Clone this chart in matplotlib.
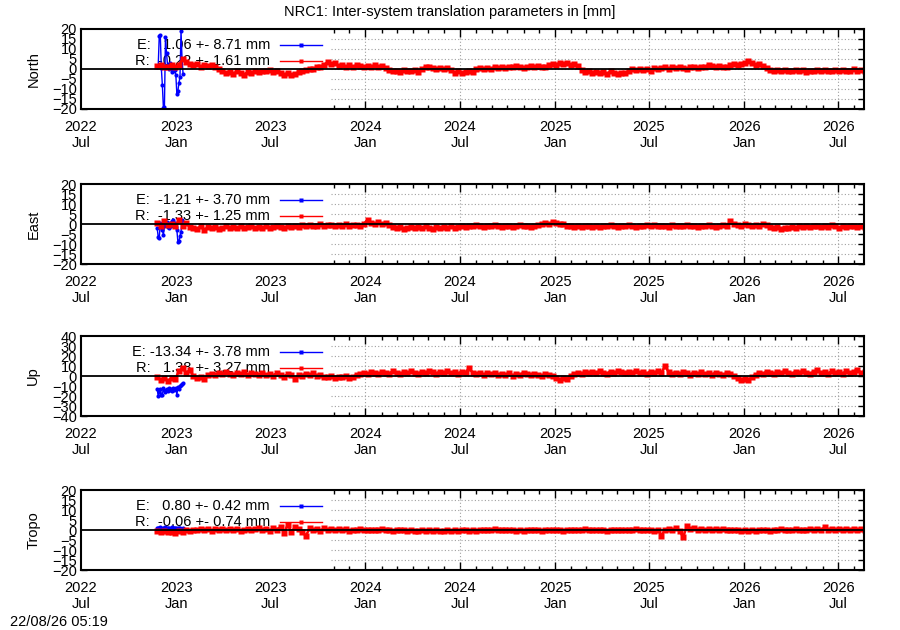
import pandas as pd
import matplotlib
matplotlib.use("Agg")
import matplotlib.pyplot as plt
import matplotlib.dates as mdates
from matplotlib.lines import Line2D
from matplotlib.patches import Rectangle

plt.rcParams["font.family"] = ["Liberation Sans", "DejaVu Sans"]
plt.rcParams["font.size"] = 10.5

# ---- data (mm), R: weekly from 2022-11-25, E: every 2 days from 2022-11-25 ----
north_e = [1.0, 1.5, 16.5, 17.0, 0.5, -8.0, -19.5, -19.0, 16.0, 8.0, 2.0, 0.0, 3.0,
           0.5, -1.5, -1.0, 1.0, -0.5, -3.0, -12.5, -11.0, -7.0, -4.0, 19.0, 5.0, -2.5]
north_r = [1.5, 2.0, 0.8, 1.2, 2.2, 1.0, 1.8, 5.0, 3.5, 2.5,
           1.8, 2.4, 1.2, 2.0, 1.5, 2.2, 1.0, 0.2, -1.2, -2.0,
           -1.5, -2.6, -1.0, -1.8, -2.8, -1.4, -2.0, -1.2, -1.6, -0.8,
           -1.2, -0.6, -1.4, -1.0, -2.2, -2.8, -2.0, -3.2, -2.4, -1.6,
           -1.0, -0.4, 0.2, -0.2, 0.8, 1.2, 2.0, 3.6, 2.4, 2.8,
           1.6, 2.2, 1.2, 1.8, 1.0, 2.0, 1.4, 0.8, 1.6, 1.2,
           1.8, 1.0, 1.4, 0.6, -0.4, -1.2, -0.8, -1.6, -0.6, -1.2,
           -1.0, -0.4, -1.4, 0.2, 0.8, 1.2, 0.4, 0.0, 0.6, -0.2,
           0.4, -0.6, -1.8, -1.2, -2.2, -1.4, -0.8, -1.6, 0.0, 0.4,
           -0.2, 0.6, 0.2, 0.8, 0.4, 1.0, 0.6, 1.2, 0.8, 1.4,
           1.0, 0.6, 1.2, 1.6, 1.0, 1.4, 0.8, 1.2, 1.8, 2.6,
           2.2, 3.0, 2.4, 2.8, 2.0, 2.6, 1.6, -0.4, -1.4, -1.0,
           -1.8, -1.4, -2.2, -1.6, -2.4, -1.2, -1.8, -2.6, -1.8, -2.2,
           -0.8, -0.2, -0.6, 0.2, -0.4, 0.0, -0.8, 0.4, -0.2, 0.6,
           0.8, 0.2, 1.0, 0.4, 1.2, 0.6, 0.2, 1.0, 0.8, 0.4,
           1.2, 0.8, 2.2, 1.4, 1.0, 1.6, 0.8, 1.2, 1.8, 2.4,
           2.0, 2.6, 3.0, 4.0, 2.8, 2.2, 2.6, 1.6, 0.6, -0.4,
           -0.8, -0.4, -1.0, -0.6, -1.2, -0.8, -0.4, -1.0, -0.6, -1.4,
           -0.8, -1.2, -0.4, -1.0, -0.6, -1.2, -0.8, -0.4, -1.0, -0.6,
           -1.2, -0.8, -0.2, -1.0, -0.6, -0.9]

east_e = [-2.0, -6.5, -7.0, 0.5, -1.5, -3.0, -5.5, -1.0, 0.0, 1.0, -1.5, -2.0, 0.5,
          -1.0, 1.5, 2.0, -0.5, 0.5, -1.5, -3.0, -9.0, -8.5, -6.0, -4.0, 2.0, 0.0]
east_r = [0.5, -1.0, 1.5, -0.5, 0.2, -1.2, 2.0, -0.8, 0.6, -1.5,
          -1.8, -2.4, -1.2, -3.0, -1.6, -2.2, -1.4, -2.6, -1.8, -1.2,
          -2.0, -1.4, -1.8, -1.2, -2.2, -1.6, -1.0, -1.8, -1.4, -2.0,
          -1.2, -1.8, -1.4, -1.0, -1.6, -2.0, -1.2, -1.6, -1.0, -1.4,
          -0.6, -1.0, -0.4, -1.2, -0.8, -0.2, -1.0, -0.6, -0.4, -0.8,
          -0.6, -1.0, -0.2, -0.8, -0.4, -0.6, -1.2, 0.2, 2.0, 0.6,
          0.0, 1.0, -0.2, 0.4, -0.6, -1.4, -2.0, -1.6, -2.4, -1.8,
          -1.4, -2.2, -1.6, -2.0, -1.2, -1.8, -2.4, -1.6, -2.0, -1.4,
          -1.8, -1.2, -2.2, -1.6, -1.0, -1.4, -0.8, -1.2, -0.6, -1.0,
          -1.4, -0.8, -1.2, -0.6, -1.0, -1.4, -0.8, -1.2, -1.6, -1.0,
          -0.6, -1.2, -0.8, -1.4, -1.0, -0.6, 0.0, 0.6, 0.2, 0.8,
          0.4, -0.2, 0.2, -0.8, -1.2, -1.6, -1.0, -1.4, -0.8, -1.2,
          -1.6, -1.0, -1.4, -0.8, -1.2, -0.6, -1.0, -1.4, -0.8, -1.2,
          -0.6, -1.0, -1.4, -0.8, -1.2, -0.6, -1.0, -0.4, -1.2, -0.8,
          -1.0, -1.4, -0.6, -1.2, -0.8, -1.0, -0.4, -1.2, -0.8, -1.4,
          -0.8, -1.2, -0.6, -1.0, -1.4, -0.8, -0.4, -1.0, 1.4, -0.2,
          -0.4, -0.8, -0.2, -0.6, -1.0, -0.4, -0.8, -0.2, -0.6, -1.4,
          -2.0, -1.6, -2.4, -1.8, -2.2, -1.6, -2.0, -1.2, -1.6, -1.0,
          -1.4, -0.8, -1.2, -1.6, -1.0, -1.4, -0.6, -1.2, -1.8, -1.0,
          -1.4, -0.8, -1.2, -1.6, -1.0, -1.4]

up_e = [-13, -20, -16, -13, -19, -19, -12, -14, -16, -13, -15, -12, -14,
        -13, -15, -12, -14, -13, -12, -19, -11, -13, -10, -9, -8, -7]
up_r = [-1.0, -4.0, -2.0, -5.0, -1.5, -3.0, 5.0, 8.0, 3.0, 6.0,
        0.0, -2.0, -1.0, -2.5, 1.0, 2.5, 1.5, 3.5, 2.0, 4.0,
        2.5, 1.5, 3.0, 2.0, 4.0, 1.0, 3.0, 2.5, 1.5, 3.5,
        1.0, 2.0, 0.5, 3.0, 1.5, -0.5, 2.0, 1.0, -3.0, 1.5,
        0.5, 2.5, 1.0, 3.0, 0.0, 1.5, -1.0, -0.5, 0.5, -1.5,
        -0.5, -1.0, 0.0, -2.0, -0.5, 1.0, 2.5, 3.5, 2.0, 4.0,
        3.0, 2.0, 4.5, 3.0, 2.5, 5.0, 3.5, 2.0, 4.0, 3.0,
        5.0, 3.5, 2.5, 4.5, 3.0, 5.5, 4.0, 2.5, 4.5, 3.5,
        5.0, 3.0, 4.0, 2.5, 4.5, 3.5, 8.0, 3.0, 2.0, 3.5,
        1.5, 3.0, 2.0, 3.5, 1.0, 2.5, 1.5, 3.0, 0.5, 2.0,
        1.5, 3.0, 2.0, 1.0, 2.5, 1.5, 0.5, 2.0, 1.0, 0.0,
        -2.0, -3.5, -1.5, -2.5, 0.5, 2.0, 3.5, 2.5, 4.0, 3.0,
        4.5, 3.0, 5.0, 3.5, 2.5, 4.5, 3.0, 5.0, 4.0, 3.0,
        4.5, 3.5, 5.5, 3.0, 4.0, 2.5, 4.5, 3.5, 5.0, 3.0,
        10.0, 4.0, 2.5, 3.5, 2.0, 4.0, 3.0, 1.5, 3.5, 2.5,
        4.0, 2.0, 3.0, 1.5, 3.5, 2.5, 1.0, 3.0, 2.0, 0.5,
        -1.5, -3.5, -2.5, -4.0, -1.0, 1.5, 3.0, 2.0, 4.5, 3.0,
        2.5, 4.0, 3.0, 5.0, 3.5, 2.0, 4.5, 3.0, 5.5, 3.5,
        2.5, 4.0, 6.0, 3.0, 4.5, 2.5, 5.0, 3.5, 4.0, 2.5,
        5.0, 3.0, 4.5, 6.5, 3.5, 4.0]

tropo_e = [1.0, 1.2, 0.8, 1.4, 1.0, 0.6, 1.2, 1.0, 1.4, 0.8, 1.2, 1.0, 0.6,
           1.0, 1.4, 1.2, 0.8, 1.0, 1.2, 0.6, 1.0, 0.8, 1.2, 0.4, 0.6, 0.8]
tropo_r = [-0.6, -1.0, -0.4, -1.2, -0.8, -1.4, -0.6, -1.0, 0.0, -0.4,
           0.2, -0.2, 0.4, 0.0, 0.3, -0.3, 0.5, 0.1, 0.4, -0.2,
           0.3, 0.0, 0.5, -0.4, 0.2, 0.6, -0.2, 0.4, 0.8, 0.0,
           0.6, -0.6, 1.2, 0.2, 1.6, -1.4, 2.6, -1.0, 1.4, 0.4,
           -0.8, -3.0, 1.0, 0.2, 0.6, -0.4, 0.8, 0.0, 0.4, -0.2,
           0.4, 0.0, 0.3, -0.3, 0.2, -0.1, 0.4, 0.0, 0.2, -0.2,
           0.2, 0.0, 0.3, -0.2, 0.1, -0.4, 0.2, -0.2, 0.0, -0.5,
           -0.2, -0.6, -0.3, 0.0, -0.5, -0.1, -0.4, 0.1, -0.3, -0.6,
           -0.2, -0.4, 0.0, -0.3, 0.1, -0.2, -0.5, 0.0, -0.3, 0.1,
           -0.2, 0.2, -0.1, 0.3, 0.0, -0.2, 0.2, -0.1, 0.1, -0.3,
           0.0, -0.4, -0.1, 0.2, -0.2, 0.0, -0.3, 0.1, -0.1, 0.2,
           -0.2, 0.0, -0.3, 0.1, -0.1, 0.2, -0.2, 0.0, 0.3, -0.1,
           0.1, -0.2, 0.2, 0.0, -0.3, 0.1, -0.1, 0.2, -0.2, 0.0,
           0.2, -0.1, 0.3, 0.0, -0.2, 0.2, 0.0, -0.4, 0.1, -2.8,
           0.2, 0.6, 0.0, 0.8, -0.4, -3.6, 1.8, 0.4, 0.8, 0.0,
           0.4, -0.2, 0.3, 0.0, 0.5, -0.1, 0.3, 0.0, 0.2, -0.2,
           0.1, -0.3, 0.2, -0.5, 0.0, -0.3, 0.2, -0.1, 0.0, -0.4,
           0.0, -0.2, 0.3, -0.1, 0.2, 0.0, 0.4, -0.2, 0.2, 0.0,
           0.3, -0.1, 0.5, 0.0, 1.4, 0.2, 0.6, -0.2, 0.4, 0.0,
           0.3, -0.2, 0.6, 0.1, 0.4, 0.0]

panels = [
    ("North", north_e, north_r, 20, 5, "E:   1.06 +- 8.71 mm", "R:  -0.22 +- 1.61 mm"),
    ("East", east_e, east_r, 20, 5, "E:  -1.21 +- 3.70 mm", "R:  -1.33 +- 1.25 mm"),
    ("Up", up_e, up_r, 40, 10, "E: -13.34 +- 3.78 mm", "R:   1.38 +- 3.27 mm"),
    ("Tropo", tropo_e, tropo_r, 20, 5, "E:   0.80 +- 0.42 mm", "R:  -0.06 +- 0.74 mm"),
]

fig = plt.figure(figsize=(9, 6.3), dpi=100)
tops = [29, 184, 336, 490]
left_px, right_px, h_px = 81, 864, 80
x0 = pd.Timestamp("2022-07-01")
x1 = pd.Timestamp("2026-08-20")

for (name, ev, rv, lim, step, elab, rlab), top in zip(panels, tops):
    ax = fig.add_axes([left_px / 900, 1 - (top + h_px) / 630,
                       (right_px - left_px) / 900, h_px / 630])
    e_dates = pd.date_range("2022-11-25", periods=len(ev), freq="2D")
    r_dates = pd.date_range("2022-11-25", periods=len(rv), freq="7D")

    ax.plot(e_dates, ev, color="#0000ff", lw=1, marker="o", ms=3, mec="none", zorder=2)
    ax.plot(r_dates, rv, color="#ff0000", lw=1.8, marker="s", ms=4.2, mec="none", zorder=2.1)
    ax.axhline(0, color="black", lw=1.3, zorder=3)

    ax.set_xlim(x0, x1)
    ax.set_ylim(-lim, lim)
    ax.set_yticks(range(-lim, lim + 1, step))
    ax.xaxis.set_major_locator(mdates.MonthLocator(bymonth=[1, 7]))
    ax.xaxis.set_minor_locator(mdates.MonthLocator())
    ax.xaxis.set_major_formatter(mdates.DateFormatter("%Y\n%b"))
    for lbl in ax.get_xticklabels():
        lbl.set_horizontalalignment("center")

    ax.tick_params(which="both", direction="in", top=True, right=True, width=1)
    ax.tick_params(axis="x", which="major", length=6, pad=8)
    ax.tick_params(axis="x", which="minor", length=3)
    ax.tick_params(axis="y", which="major", length=4, pad=3)
    for s in ax.spines.values():
        s.set_linewidth(1.5)

    ax.grid(True, which="major", color="#a0a0a0", ls=(0, (1, 2)), lw=0.8)
    # key area hides the grid on the left
    ax.add_patch(Rectangle((0, 0), 0.318, 1, transform=ax.transAxes,
                           facecolor="white", edgecolor="none", zorder=1.6))

    ax.set_ylabel(name)
    ax.yaxis.set_label_coords(-0.052, 0.5)

    for lab, yy, col in [(elab, 0.8, "#0000ff"), (rlab, 0.6, "#ff0000")]:
        ax.text(0.2414, yy, lab, transform=ax.transAxes, ha="right", va="center",
                zorder=1.7)
        ax.add_line(Line2D([0.254, 0.308], [yy, yy], transform=ax.transAxes,
                           color=col, lw=1, zorder=4))
        ax.add_line(Line2D([0.281], [yy], transform=ax.transAxes, color=col,
                           marker="s", ms=3, mec="none", zorder=4))

fig.text(0.5, 1 - 12 / 630, "NRC1: Inter-system translation parameters in [mm]",
         ha="center", va="center")
fig.text(10 / 900, 1 - 622 / 630, "22/08/26 05:19", ha="left", va="center")

fig.savefig("out.png", dpi=100)
